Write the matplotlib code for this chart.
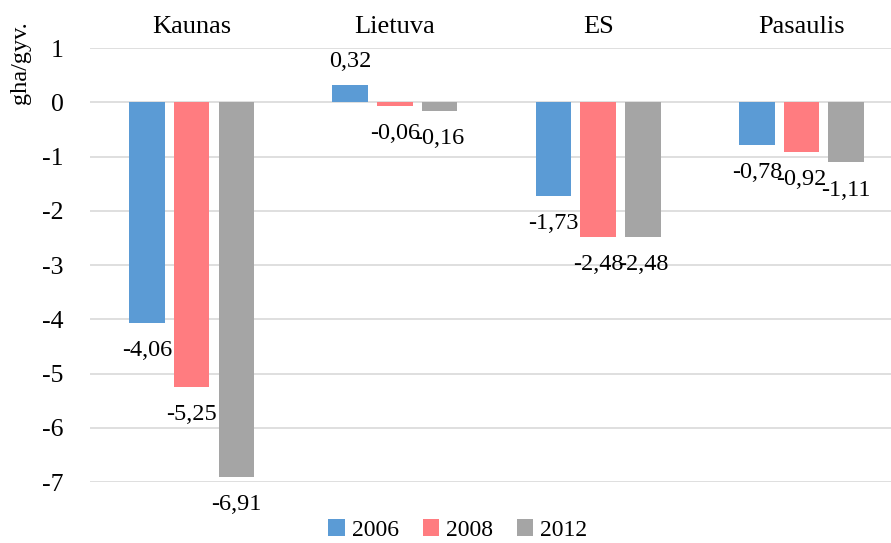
import numpy as np
import matplotlib
matplotlib.use("Agg")
import matplotlib.pyplot as plt

plt.rcParams['font.family'] = ['Liberation Serif', 'DejaVu Serif']

regions = ["Kaunas", "Lietuva", "ES", "Pasaulis"]
years = ["2006", "2008", "2012"]
vals_2006 = [-4.06, 0.32, -1.73, -0.78]
vals_2008 = [-5.25, -0.06, -2.48, -0.92]
vals_2012 = [-6.91, -0.16, -2.48, -1.11]
colors = ["#5B9BD5", "#FF7C80", "#A5A5A5"]

fig = plt.figure(figsize=(8.91, 5.43), dpi=100)
ax = fig.add_axes([0.101, 0.1123, 0.899, 0.7993])

x = np.arange(len(regions))
step = 0.22
width = 0.175
series = [vals_2006, vals_2008, vals_2012]
for i, (vals, col, yr) in enumerate(zip(series, colors, years)):
    pos = x + (i - 1) * step
    ax.bar(pos, vals, width, color=col, label=yr, zorder=3)
    for px, v in zip(pos, vals):
        txt = ("%.2f" % v).replace(".", ",")
        off = 17 if v > 0 else -20
        ax.annotate(txt, (px, v), xytext=(0, off), textcoords="offset points",
                    ha="center", va="center", fontsize=17.5, zorder=4)

ax.set_ylim(-7, 1)
ax.set_xlim(-0.5, 3.44)
ax.set_yticks(range(-7, 2))
ax.set_yticklabels([str(t) for t in range(-7, 2)], fontsize=18.5)
ax.yaxis.grid(True, color="#D9D9D9", linewidth=1.2, zorder=0)
ax.tick_params(axis="y", length=0, pad=19)

# region names sit above the plot
ax.xaxis.tick_top()
ax.set_xticks(x)
ax.set_xticklabels(regions, fontsize=19)
ax.tick_params(axis="x", length=0, pad=7)

for s in ax.spines.values():
    s.set_visible(False)

fig.text(20 / 891, 1 - 63 / 543, "gha/gyv.", rotation=90, ha="center",
         va="center", fontsize=17.5)

fig.legend(loc="center", bbox_to_anchor=(458 / 891, 13 / 543), ncol=3,
           frameon=False, fontsize=17, handlelength=0.7, handleheight=0.7,
           handletextpad=0.3, columnspacing=1.0, borderaxespad=0)

fig.savefig("out.png", dpi=100)
